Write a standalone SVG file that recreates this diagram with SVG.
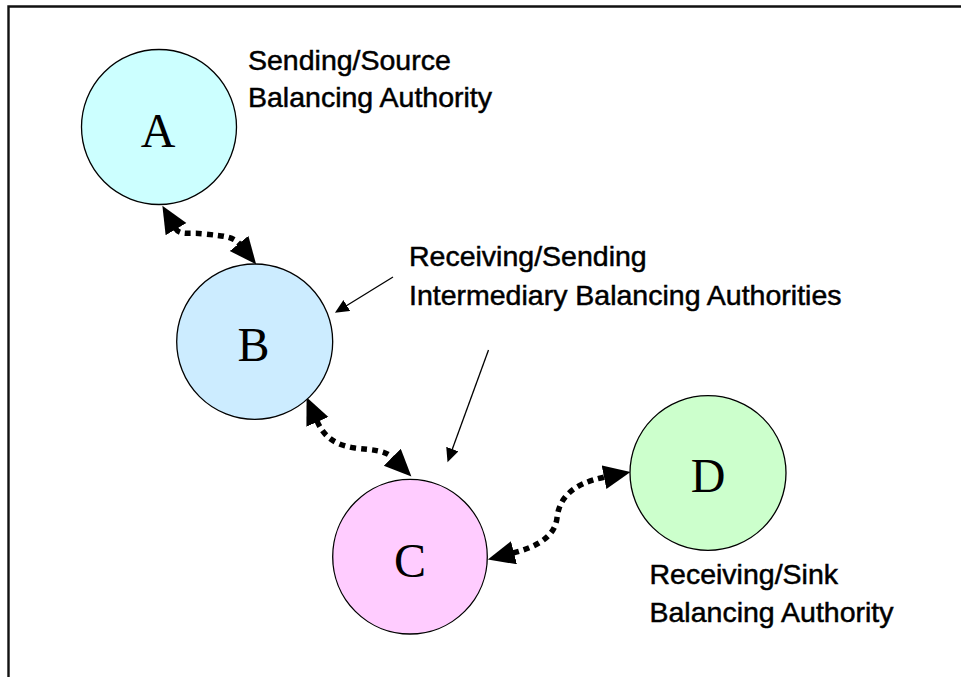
<svg xmlns="http://www.w3.org/2000/svg" width="961" height="677" viewBox="0 0 961 677">
  <style>
    .node { stroke: #000; stroke-width: 1.3; }
    .letter { font-family: "Liberation Serif", "Times New Roman", serif; font-size: 48px; text-anchor: middle; fill: #000; }
    .note { font-family: "Liberation Sans", Arial, sans-serif; font-size: 28.5px; fill: #000; stroke: #000; stroke-width: 0.5; }
    .link { fill: none; stroke: #000; stroke-width: 5.5; stroke-dasharray: 6 5; }
    .pointer { fill: none; stroke: #000; stroke-width: 1.3; }
  </style>
  <defs>
    <marker id="bigHead" markerUnits="userSpaceOnUse" markerWidth="29" markerHeight="25" refX="1" refY="12" orient="auto-start-reverse">
      <path d="M0,0 L27,12 L0,24 Z" fill="#000"/>
    </marker>
    <marker id="thinHead" markerUnits="userSpaceOnUse" markerWidth="16" markerHeight="14" refX="1" refY="6.5" orient="auto">
      <path d="M0,0 L14,6.5 L0,13 Z" fill="#000"/>
    </marker>
  </defs>

  <rect width="961" height="677" fill="#fff"/>
  <!-- frame: top and left edges -->
  <path d="M8.5,677 L8.5,6.5 L961,6.5" fill="none" stroke="#111" stroke-width="2.4"/>

  <g id="connectors">
    <path class="link" d="M175.5,228.3 C180,236 190,232 205,234 C222,236 233,236 239.7,244.2" marker-start="url(#bigHead)" marker-end="url(#bigHead)"/>
    <path class="link" d="M317,421 C324,437 335,445 355,448 C372,450 385,450 393,458" marker-start="url(#bigHead)" marker-end="url(#bigHead)"/>
    <path class="link" d="M513,553 C540,546 555,535 557,518 C559,500 570,484 605,477" marker-start="url(#bigHead)" marker-end="url(#bigHead)"/>
    <path class="pointer" d="M393,277 L346,306" marker-end="url(#thinHead)"/>
    <path class="pointer" d="M488.5,350 L452,450" marker-end="url(#thinHead)"/>
  </g>

  <g id="node-a">
    <ellipse class="node" cx="159" cy="127" rx="77.5" ry="77.5" fill="#CCFFFF"/>
    <text class="letter" x="158" y="147">A</text>
  </g>
  <g id="node-b">
    <ellipse class="node" cx="254.7" cy="341.7" rx="78" ry="77.7" fill="#CCECFF"/>
    <text class="letter" x="253.5" y="361">B</text>
  </g>
  <g id="node-c">
    <ellipse class="node" cx="410" cy="556.7" rx="77.3" ry="77.3" fill="#FFCCFF"/>
    <text class="letter" x="410" y="577">C</text>
  </g>
  <g id="node-d">
    <ellipse class="node" cx="708" cy="473" rx="78" ry="77.3" fill="#CCFFCC"/>
    <text class="letter" x="708" y="492">D</text>
  </g>

  <g id="label-source">
    <text class="note" x="248" y="70">Sending/Source</text>
    <text class="note" x="248" y="107">Balancing Authority</text>
  </g>
  <g id="label-intermediary">
    <text class="note" x="409" y="265.5">Receiving/Sending</text>
    <text class="note" x="409" y="305">Intermediary Balancing Authorities</text>
  </g>
  <g id="label-sink">
    <text class="note" x="649.5" y="584">Receiving/Sink</text>
    <text class="note" x="649.5" y="622">Balancing Authority</text>
  </g>
</svg>
